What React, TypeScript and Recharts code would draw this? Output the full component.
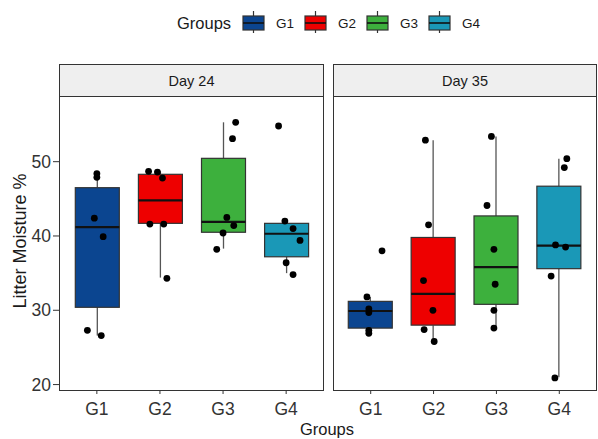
import React from 'react';
import { ComposedChart, Bar, Scatter, XAxis, YAxis } from 'recharts';

const FONT = '"Liberation Sans", Arial, Helvetica, sans-serif';

const groups = ['G1', 'G2', 'G3', 'G4'];
const groupColors = ['#0B4590', '#EE0000', '#3DB03D', '#1A98B7'];
const yTicks = [20, 30, 40, 50];
const xTicks = [1, 2, 3, 4];
const facetLabels = ['Day 24', 'Day 35'];

// Day 24 box statistics
const day24Q1 = [30.4, 41.7, 40.5, 37.2];
const day24Med = [41.2, 44.8, 41.9, 40.3];
const day24Q3 = [46.5, 48.3, 50.45, 41.7];
const day24Lo = [26.6, 34.4, 38.3, 35.0];
const day24Hi = [48.5, 48.7, 55.3, 42.0];

// Day 35 box statistics
const day35Q1 = [27.6, 28.0, 30.8, 35.6];
const day35Med = [29.9, 32.2, 35.8, 38.7];
const day35Q3 = [31.2, 39.8, 42.7, 46.7];
const day35Lo = [26.9, 25.8, 27.6, 21.0];
const day35Hi = [31.8, 52.9, 53.4, 50.4];

// Day 24 jittered observations (x in group units)
const day24PointX = [0.85, 1.07, 0.96, 1.1, 1.0, 1.0, 1.82, 1.96, 2.04, 1.84, 2.06, 2.11, 3.2, 3.15, 3.06, 3.17, 3.0, 2.9, 3.88, 3.98, 4.11, 4.22, 4.0, 4.11];
const day24PointY = [27.3, 26.6, 42.4, 39.9, 48.4, 47.9, 48.7, 48.6, 47.8, 41.6, 41.6, 34.3, 55.3, 53.1, 42.5, 41.4, 40.4, 38.2, 54.8, 42.0, 41.0, 39.4, 36.4, 34.8];

// Day 35 jittered observations
const day35PointX = [1.18, 0.94, 0.97, 0.97, 0.97, 0.97, 1.87, 1.92, 1.84, 1.99, 1.85, 2.01, 2.92, 2.85, 2.96, 2.98, 2.96, 2.96, 4.12, 4.08, 3.94, 4.1, 3.87, 3.93];
const day35PointY = [38.0, 31.8, 30.2, 29.7, 27.3, 26.9, 52.9, 41.5, 34.0, 30.0, 27.4, 25.8, 53.4, 44.1, 38.2, 33.5, 30.0, 27.6, 50.4, 49.2, 38.8, 38.5, 34.6, 20.9];

const Y_DOMAIN: [number, number] = [19.27, 58.84];
const X_DOMAIN: [number, number] = [0.4, 4.6];

function buildBoxes(q1: number[], med: number[], q3: number[], lo: number[], hi: number[]) {
  return groups.map((g, i) => ({ group: g, idx: i, range: [q1[i], q3[i]], q1: q1[i], med: med[i], q3: q3[i], lo: lo[i], hi: hi[i] }));
}
function buildPoints(xs: number[], ys: number[]) {
  return xs.map((x, i) => ({ x, y: ys[i] }));
}

const day24Boxes = buildBoxes(day24Q1, day24Med, day24Q3, day24Lo, day24Hi);
const day35Boxes = buildBoxes(day35Q1, day35Med, day35Q3, day35Lo, day35Hi);
const day24Points = buildPoints(day24PointX, day24PointY);
const day35Points = buildPoints(day35PointX, day35PointY);

const BoxShape = (props: any) => {
  const { x, y, width, height, payload } = props;
  if (!payload) return null;
  const top = Math.min(y, y + height);
  const h = Math.abs(height);
  const k = h / (payload.q3 - payload.q1);
  const yHi = top - (payload.hi - payload.q3) * k;
  const yLo = top + h + (payload.q1 - payload.lo) * k;
  const yMed = top + (payload.q3 - payload.med) * k;
  const cx = x + width / 2;
  return (
    <g>
      <line x1={cx} x2={cx} y1={yHi} y2={top} stroke="#555" strokeWidth={1.3} />
      <line x1={cx} x2={cx} y1={top + h} y2={yLo} stroke="#555" strokeWidth={1.3} />
      <rect x={x} y={top} width={width} height={h} fill={groupColors[payload.idx]} stroke="#333" strokeWidth={1.2} />
      <line x1={x} x2={x + width} y1={yMed} y2={yMed} stroke="#111" strokeWidth={2.2} />
    </g>
  );
};

const Dot = (p: any) => <circle cx={p.cx} cy={p.cy} r={3.4} fill="#000" />;

const tickStyle = { fill: '#333', fontSize: 17.5, fontFamily: FONT };

function Panel(props: { boxes: any[]; points: any[]; left: number; width: number; margin: any; showY: boolean; plotW: number }) {
  const { boxes, points, left, width, margin, showY, plotW } = props;
  const pad = plotW / 42;
  return (
    <div style={{ position: 'absolute', left, top: 0, width, height: 439 }}>
      <ComposedChart width={width} height={439} data={boxes} margin={margin}>
        <XAxis xAxisId="cat" dataKey="group" type="category" orientation="top" height={0} hide padding={{ left: pad, right: pad }} />
        <XAxis
          xAxisId="num"
          dataKey="x"
          type="number"
          domain={X_DOMAIN}
          ticks={xTicks}
          interval={0}
          allowDataOverflow
          tickFormatter={(v: number) => groups[v - 1]}
          height={49}
          axisLine={false}
          tickSize={4}
          tickMargin={9}
          tickLine={{ stroke: '#333' }}
          tick={tickStyle}
        />
        <YAxis
          type="number"
          domain={Y_DOMAIN}
          allowDataOverflow
          ticks={yTicks}
          interval={0}
          hide={!showY}
          width={59}
          axisLine={false}
          tickSize={6}
          tickMargin={2}
          tickLine={{ stroke: '#333' }}
          tick={tickStyle}
        />
        <Bar xAxisId="cat" dataKey="range" barSize={44} shape={<BoxShape />} isAnimationActive={false} />
        <Scatter xAxisId="num" data={points} dataKey="y" shape={<Dot />} isAnimationActive={false} />
      </ComposedChart>
    </div>
  );
}

const frame = { position: 'absolute' as const, border: '1.4px solid #333', boxSizing: 'border-box' as const, pointerEvents: 'none' as const };

export default function App() {
  const legendX = [243, 305, 367, 429];
  return (
    <div style={{ position: 'absolute', left: 0, top: 0, width: 598, height: 439, background: '#fff', overflow: 'hidden', fontFamily: FONT }}>
      <Panel boxes={day24Boxes} points={day24Points} left={0} width={330} margin={{ top: 96, right: 6, bottom: 0, left: 0 }} showY plotW={265} />
      <Panel boxes={day35Boxes} points={day35Points} left={330} width={268} margin={{ top: 96, right: 1, bottom: 0, left: 3 }} showY={false} plotW={264} />

      <div style={{ ...frame, left: 59, top: 96, width: 265, height: 295 }} />
      <div style={{ ...frame, left: 333, top: 96, width: 264, height: 295 }} />

      {[{ l: 59, w: 265 }, { l: 333, w: 264 }].map((s, i) => (
        <div key={i} style={{ position: 'absolute', left: s.l, top: 64, width: s.w, height: 33, background: '#EFEFEF', border: '1.4px solid #333', boxSizing: 'border-box', display: 'flex', alignItems: 'center', justifyContent: 'center', fontSize: 14.5, color: '#1a1a1a' }}>
          {facetLabels[i]}
        </div>
      ))}

      <svg width={598} height={439} style={{ position: 'absolute', left: 0, top: 0, pointerEvents: 'none' }}>
        <text x={177} y={29} fontSize={16.5} fill="#1a1a1a" fontFamily={FONT}>Groups</text>
        {groups.map((g, i) => {
          const lx = legendX[i];
          return (
            <g key={g}>
              <line x1={lx + 10.5} x2={lx + 10.5} y1={11} y2={33} stroke="#333" strokeWidth={1.2} />
              <rect x={lx} y={16} width={21} height={14} fill={groupColors[i]} stroke="#333" strokeWidth={1.2} />
              <line x1={lx} x2={lx + 21} y1={23} y2={23} stroke="#111" strokeWidth={1.6} />
              <text x={lx + 33} y={28} fontSize={13.5} fill="#1a1a1a" fontFamily={FONT}>{g}</text>
            </g>
          );
        })}
        <text transform="translate(25.5,241) rotate(-90)" textAnchor="middle" fontSize={18} fill="#1a1a1a" fontFamily={FONT}>Litter Moisture %</text>
        <text x={327} y={435} textAnchor="middle" fontSize={16.5} fill="#1a1a1a" fontFamily={FONT}>Groups</text>
      </svg>
    </div>
  );
}
